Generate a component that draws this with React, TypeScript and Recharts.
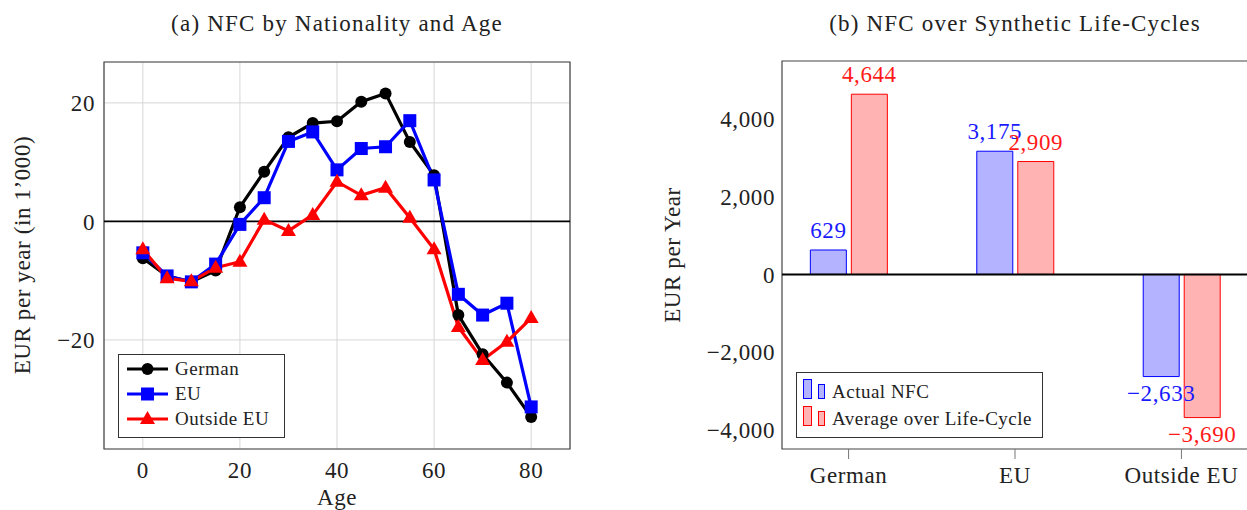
import React from 'react';
import {
  LineChart, Line, XAxis, YAxis, CartesianGrid, ReferenceLine, ReferenceArea, Legend,
  BarChart, Bar, LabelList,
} from 'recharts';

const FONT = '"Liberation Serif", "Times New Roman", serif';

// ---- Panel (a) data ----
const ages = [0, 5, 10, 15, 20, 25, 30, 35, 40, 45, 50, 55, 60, 65, 70, 75, 80];
const germanNfc = [-6.2, -9.2, -10.2, -8.3, 2.4, 8.4, 14.2, 16.6, 16.9, 20.2, 21.6, 13.4, 7.8, -15.8, -22.4, -27.2, -33.0];
const euNfc = [-5.3, -9.2, -10.2, -7.2, -0.5, 4.0, 13.5, 15.1, 8.7, 12.3, 12.6, 17.0, 7.0, -12.3, -15.8, -13.8, -31.3];
const outsideEuNfc = [-4.7, -9.6, -10.1, -7.8, -6.8, 0.3, -1.6, 1.1, 6.7, 4.4, 5.7, 0.6, -4.7, -17.8, -23.4, -20.3, -16.3];
const ageTicks = [0, 20, 40, 60, 80];
const nfcTicks = [-20, 0, 20];

// ---- Panel (b) data ----
const groups = ['German', 'EU', 'Outside EU'];
const actualNfc = [629, 3175, -2633];
const lifeCycleNfc = [4644, 2909, -3690];
const eurTicks = [-4000, -2000, 0, 2000, 4000];

const lineData = ages.map((age, i) => ({ age, german: germanNfc[i], eu: euNfc[i], outside: outsideEuNfc[i] }));
const barData = groups.map((group, i) => ({ idx: i, group, actual: actualNfc[i], lifecycle: lifeCycleNfc[i] }));

const minus = (s: string) => s.replace('-', '\u2212');
const fmtInt = (v: number) => minus(Number(v).toLocaleString('en-US'));

const circleShape = (cx: number, cy: number, color: string) => <circle cx={cx} cy={cy} r={6} fill={color} />;
const squareShape = (cx: number, cy: number, color: string) => (
  <rect x={cx - 6.5} y={cy - 6.5} width={13} height={13} fill={color} />
);
const triangleShape = (cx: number, cy: number, color: string) => (
  <polygon points={`${cx},${cy - 8} ${cx + 7.5},${cy + 5} ${cx - 7.5},${cy + 5}`} fill={color} />
);

const series = [
  { key: 'german', name: 'German', color: '#000000', shape: circleShape },
  { key: 'eu', name: 'EU', color: '#0000ff', shape: squareShape },
  { key: 'outside', name: 'Outside EU', color: '#ff0000', shape: triangleShape },
];

const makeDot = (shape: any, color: string) => (p: any) => {
  if (p.cx == null || p.cy == null) return <g key={`e-${p.index}`} />;
  return <g key={`d-${p.index}`}>{shape(p.cx, p.cy, color)}</g>;
};

const LeftLegend = () => (
  <svg width={167} height={84} style={{ display: 'block' }}>
    <rect x={0.5} y={0.5} width={166} height={83} fill="#fff" stroke="#333" strokeWidth={1} />
    {series.map((s, i) => {
      const y = 15 + i * 25;
      return (
        <g key={s.key}>
          <line x1={9} x2={50} y1={y} y2={y} stroke={s.color} strokeWidth={3.2} />
          {s.shape(29.5, y, s.color)}
          <text x={57} y={y + 6} fontSize={19} fontFamily={FONT} fill="#222" letterSpacing={0.5}>{s.name}</text>
        </g>
      );
    })}
  </svg>
);

const barSeries = [
  { key: 'actual', name: 'Actual NFC', fill: '#b3b3ff', stroke: '#0000ff', label: '#1a1aff' },
  { key: 'lifecycle', name: 'Average over Life-Cycle', fill: '#ffb3b3', stroke: '#ff0000', label: '#ff1a1a' },
];

const RightLegend = () => (
  <svg width={247} height={66} style={{ display: 'block' }}>
    <rect x={0.5} y={0.5} width={246} height={65} fill="#fff" stroke="#333" strokeWidth={1} />
    {barSeries.map((s, i) => {
      const dy = i * 27;
      return (
        <g key={s.key}>
          <rect x={7.5} y={7.5 + dy} width={8} height={19} fill={s.fill} stroke={s.stroke} />
          <rect x={22.5} y={12.5 + dy} width={6} height={14} fill={s.fill} stroke={s.stroke} />
          <text x={36} y={26 + dy} fontSize={19} fontFamily={FONT} fill="#222" letterSpacing={0.5}>{s.name}</text>
        </g>
      );
    })}
  </svg>
);

const makeValueLabel = (color: string) => (props: any) => {
  const { x, y, width, height, value } = props;
  const top = Math.min(y, y + height);
  const bottom = Math.max(y, y + height);
  const cx = x + width / 2;
  const ty = value >= 0 ? top - 12 : bottom + 24;
  return (
    <text key={`l-${props.index}`} x={cx} y={ty} textAnchor="middle" fill={color} fontSize={23} fontFamily={FONT} letterSpacing={0.6}>
      {fmtInt(value)}
    </text>
  );
};

const tickStyle = { fontSize: 23, fontFamily: FONT, fill: '#222', letterSpacing: 0.6 };

export default function App() {
  return (
    <div style={{ position: 'absolute', left: 0, top: 0, width: 1247, height: 510, overflow: 'hidden', background: '#fff', fontFamily: FONT }}>
      <div style={{ position: 'absolute', left: 0, top: 0 }}>
        <LineChart width={600} height={510} data={lineData} margin={{ top: 62, right: 30, bottom: 0, left: 0 }}>
          <CartesianGrid stroke="#d6d6d6" strokeWidth={1} />
          <XAxis
            dataKey="age" type="number" domain={[-8, 88]} ticks={ageTicks} allowDataOverflow
            height={61} tickLine={false} axisLine={false} tickSize={0} tickMargin={13}
            tick={tickStyle} tickFormatter={(v: number) => minus(String(v))}
          />
          <YAxis
            type="number" domain={[-38.4, 26.9]} ticks={nfcTicks} allowDataOverflow
            width={104} tickLine={false} axisLine={false} tickSize={0} tickMargin={9}
            tick={tickStyle} tickFormatter={(v: number) => minus(String(v))}
          />
          <ReferenceArea x1={-8} x2={88} y1={-38.4} y2={26.9} fill="none" stroke="#444" strokeWidth={1.2} ifOverflow="visible" />
          <ReferenceLine y={0} stroke="#000" strokeWidth={1.8} ifOverflow="visible" />
          {series.map((s) => (
            <Line
              key={s.key} dataKey={s.key} name={s.name} type="linear" stroke={s.color} strokeWidth={3.2}
              dot={makeDot(s.shape, s.color)} activeDot={false} isAnimationActive={false}
            />
          ))}
          <Legend
            layout="vertical" align="center" verticalAlign="middle"
            wrapperStyle={{ left: 118, top: 354, width: 167, height: 84 }}
            content={() => <LeftLegend />}
          />
        </LineChart>
      </div>

      <div style={{ position: 'absolute', left: 600, top: 0 }}>
        <BarChart width={660} height={510} data={barData} margin={{ top: 51, right: 12, bottom: 0, left: 0 }} barGap={5}>
          <XAxis
            dataKey="idx" type="number" domain={[-0.4, 2.4]} ticks={[0, 1, 2]} allowDataOverflow
            height={61} axisLine={false} tickLine={{ stroke: '#777' }} tickSize={10} tickMargin={8}
            tick={tickStyle} tickFormatter={(v: number) => groups[v] ?? ''}
          />
          <XAxis
            xAxisId="top" orientation="top" dataKey="idx" type="number" domain={[-0.4, 2.4]} ticks={[0, 1, 2]} allowDataOverflow
            height={10} axisLine={false} tickLine={{ stroke: '#777' }} tickSize={10} tick={false}
          />
          <YAxis
            type="number" domain={[-4500, 5500]} ticks={eurTicks} allowDataOverflow
            width={182} tickLine={false} axisLine={false} tickSize={0} tickMargin={7}
            tick={tickStyle} tickFormatter={fmtInt}
          />
          <YAxis
            yAxisId="lm" orientation="left" mirror type="number" domain={[-4500, 5500]} ticks={eurTicks} allowDataOverflow
            axisLine={false} tickLine={{ stroke: '#777' }} tickSize={8} tick={false}
          />
          <YAxis
            yAxisId="rm" orientation="right" mirror type="number" domain={[-4500, 5500]} ticks={eurTicks} allowDataOverflow
            axisLine={false} tickLine={{ stroke: '#777' }} tickSize={10} tick={false}
          />
          <ReferenceArea x1={-0.4} x2={2.4} y1={-4500} y2={5500} fill="none" stroke="#444" strokeWidth={1.2} ifOverflow="visible" />
          {barSeries.map((s) => (
            <Bar key={s.key} dataKey={s.key} name={s.name} fill={s.fill} stroke={s.stroke} strokeWidth={1} barSize={36} isAnimationActive={false}>
              <LabelList dataKey={s.key} content={makeValueLabel(s.label)} />
            </Bar>
          ))}
          <ReferenceLine y={0} stroke="#000" strokeWidth={2} ifOverflow="visible" />
          <Legend
            layout="vertical" align="center" verticalAlign="middle"
            wrapperStyle={{ left: 196, top: 372, width: 247, height: 66 }}
            content={() => <RightLegend />}
          />
        </BarChart>
      </div>

      <svg width={1247} height={510} style={{ position: 'absolute', left: 0, top: 0, pointerEvents: 'none' }}>
        <text x={337} y={31} textAnchor="middle" fontSize={23} fontFamily={FONT} fill="#222" letterSpacing={1.2}>
          (a) NFC by Nationality and Age
        </text>
        <text x={1015} y={31} textAnchor="middle" fontSize={23} fontFamily={FONT} fill="#222" letterSpacing={1.2}>
          (b) NFC over Synthetic Life-Cycles
        </text>
        <text x={337} y={505} textAnchor="middle" fontSize={23} fontFamily={FONT} fill="#222" letterSpacing={0.6}>Age</text>
        <text
          x={22} y={255} textAnchor="middle" dominantBaseline="central" transform="rotate(-90 22 255)"
          fontSize={23} fontFamily={FONT} fill="#222" letterSpacing={0.6}
        >
          EUR per year (in 1’000)
        </text>
        <text
          x={672} y={255} textAnchor="middle" dominantBaseline="central" transform="rotate(-90 672 255)"
          fontSize={23} fontFamily={FONT} fill="#222" letterSpacing={0.6}
        >
          EUR per Year
        </text>
      </svg>
    </div>
  );
}
